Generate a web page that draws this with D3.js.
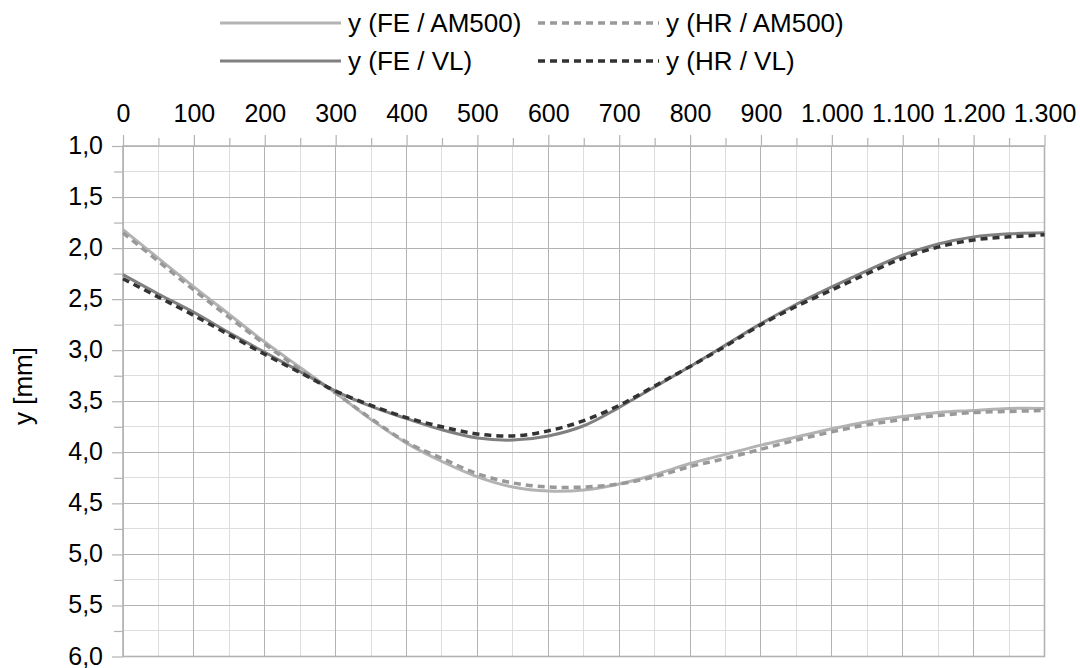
<!DOCTYPE html>
<html>
<head>
<meta charset="utf-8">
<script src="https://cdn.jsdelivr.net/npm/d3@7"></script>
<style>
  html, body { margin: 0; padding: 0; background: #ffffff; }
  svg { display: block; font-family: "Liberation Sans", Arial, sans-serif; }
</style>
</head>
<body>
<svg id="chart" width="1080" height="668"></svg>
<script>
// ---- data ----
const xValues = [0, 50, 100, 150, 200, 250, 300, 350, 400, 450, 500, 550, 600, 650, 700, 750, 800, 850, 900, 950, 1000, 1050, 1100, 1150, 1200, 1250, 1300];
const yFE_AM500 = [1.82, 2.10, 2.38, 2.65, 2.92, 3.17, 3.42, 3.68, 3.91, 4.09, 4.24, 4.34, 4.38, 4.37, 4.31, 4.22, 4.11, 4.02, 3.93, 3.85, 3.77, 3.70, 3.65, 3.61, 3.59, 3.57, 3.57];
const yHR_AM500 = [1.85, 2.13, 2.41, 2.68, 2.94, 3.19, 3.42, 3.67, 3.90, 4.06, 4.21, 4.30, 4.34, 4.34, 4.31, 4.24, 4.14, 4.06, 3.97, 3.88, 3.80, 3.73, 3.68, 3.64, 3.61, 3.60, 3.59];
const yFE_VL    = [2.26, 2.45, 2.63, 2.83, 3.02, 3.21, 3.40, 3.55, 3.67, 3.78, 3.86, 3.88, 3.84, 3.74, 3.56, 3.36, 3.16, 2.95, 2.74, 2.55, 2.38, 2.22, 2.07, 1.96, 1.89, 1.86, 1.85];
const yHR_VL    = [2.30, 2.48, 2.66, 2.85, 3.04, 3.22, 3.40, 3.54, 3.66, 3.75, 3.82, 3.84, 3.79, 3.69, 3.54, 3.35, 3.16, 2.96, 2.75, 2.57, 2.41, 2.25, 2.10, 1.99, 1.92, 1.89, 1.87];
const seriesNames = ["y (FE / AM500)", "y (HR / AM500)", "y (FE / VL)", "y (HR / VL)"];
const xMajorTicks = [0, 100, 200, 300, 400, 500, 600, 700, 800, 900, 1000, 1100, 1200, 1300];
const xMinorTicks = [50, 150, 250, 350, 450, 550, 650, 750, 850, 950, 1050, 1150, 1250];
const yMajorTicks = [1.0, 1.5, 2.0, 2.5, 3.0, 3.5, 4.0, 4.5, 5.0, 5.5, 6.0];
const yMinorTicks = [1.25, 1.75, 2.25, 2.75, 3.25, 3.75, 4.25, 4.75, 5.25, 5.75];
const yTitle = "y [mm]";

// ---- styles ----
const styles = [
  { color: "#b3b3b3", dash: null, w: 3 },
  { color: "#999999", dash: "7,5", w: 3.5 },
  { color: "#808080", dash: null, w: 3 },
  { color: "#333333", dash: "7,5", w: 3.5 }
];
const seriesValues = [yFE_AM500, yHR_AM500, yFE_VL, yHR_VL];

const svg = d3.select("#chart");
svg.append("rect").attr("width", 1080).attr("height", 668).attr("fill", "#fff");

const pL = 123, pR = 1044.5, pT = 146, pB = 656.5;
const x = d3.scaleLinear().domain([0, 1300]).range([pL, pR]);
const y = d3.scaleLinear().domain([1, 6]).range([pT, pB]);

const loc = d3.formatLocale({ decimal: ",", thousands: ".", grouping: [3], currency: ["", ""] });
const fx = loc.format(",d");
const fy = loc.format(".1f");

const FONT = 25;
const FONT_BIG = 26;

// minor grid
const g = svg.append("g");
g.selectAll(".vmin").data(xMinorTicks).join("line")
  .attr("x1", d => x(d)).attr("x2", d => x(d)).attr("y1", pT).attr("y2", pB)
  .attr("stroke", "#dddddd").attr("stroke-width", 1).attr("shape-rendering", "crispEdges");
g.selectAll(".hmin").data(yMinorTicks).join("line")
  .attr("y1", d => y(d)).attr("y2", d => y(d)).attr("x1", pL).attr("x2", pR)
  .attr("stroke", "#dddddd").attr("stroke-width", 1).attr("shape-rendering", "crispEdges");
// major grid
g.selectAll(".vmaj").data(xMajorTicks).join("line")
  .attr("x1", d => x(d)).attr("x2", d => x(d)).attr("y1", pT).attr("y2", pB)
  .attr("stroke", "#b3b3b3").attr("stroke-width", 1).attr("shape-rendering", "crispEdges");
g.selectAll(".hmaj").data(yMajorTicks).join("line")
  .attr("y1", d => y(d)).attr("y2", d => y(d)).attr("x1", pL).attr("x2", pR)
  .attr("stroke", "#b3b3b3").attr("stroke-width", 1).attr("shape-rendering", "crispEdges");

// border
svg.append("rect").attr("x", pL).attr("y", pT).attr("width", pR - pL).attr("height", pB - pT)
  .attr("fill", "none").attr("stroke", "#b3b3b3").attr("stroke-width", 1.6);

// axes
function styleAxis(sel) {
  sel.select(".domain").remove();
  sel.selectAll(".tick line").attr("stroke", "#b3b3b3").attr("stroke-width", 1.2);
  sel.selectAll(".tick text").attr("fill", "#000").style("font-size", FONT + "px")
    .style("font-family", '"Liberation Sans", Arial, sans-serif');
}
svg.append("g").attr("transform", `translate(0,${pT})`)
  .call(d3.axisTop(x).tickValues(xMinorTicks).tickSize(8).tickFormat(""))
  .call(styleAxis);
svg.append("g").attr("transform", `translate(0,${pT})`)
  .call(d3.axisTop(x).tickValues(xMajorTicks).tickSize(11).tickPadding(13).tickFormat(fx))
  .call(styleAxis);
svg.append("g").attr("transform", `translate(${pL},0)`)
  .call(d3.axisLeft(y).tickValues(yMinorTicks).tickSize(9).tickFormat(""))
  .call(styleAxis);
svg.append("g").attr("transform", `translate(${pL},0)`)
  .call(d3.axisLeft(y).tickValues(yMajorTicks).tickSize(11).tickPadding(9).tickFormat(fy))
  .call(styleAxis)
  .call(s => s.selectAll(".tick text").attr("dy", "0.3em"));

// y title
svg.append("text")
  .attr("transform", "translate(31.5,386) rotate(-90)")
  .attr("text-anchor", "middle")
  .style("font-size", FONT_BIG + "px").attr("fill", "#000")
  .text(yTitle);

// lines
const line = d3.line().x(d => x(d[0])).y(d => y(d[1])).curve(d3.curveCatmullRom.alpha(0.5));
seriesValues.forEach((vals, i) => {
  const pts = xValues.map((xv, j) => [xv, vals[j]]);
  svg.append("path").datum(pts)
    .attr("d", line)
    .attr("fill", "none")
    .attr("stroke", styles[i].color)
    .attr("stroke-width", styles[i].w)
    .attr("stroke-dasharray", styles[i].dash);
});

// legend
const legendPos = [
  { lx: 220, ly: 23 }, { lx: 538, ly: 23 },
  { lx: 220, ly: 61 }, { lx: 538, ly: 61 }
];
const lg = svg.append("g");
seriesNames.forEach((name, i) => {
  const p = legendPos[i];
  lg.append("line").attr("x1", p.lx).attr("x2", p.lx + 121).attr("y1", p.ly).attr("y2", p.ly)
    .attr("stroke", styles[i].color).attr("stroke-width", styles[i].w)
    .attr("stroke-dasharray", styles[i].dash);
  lg.append("text").attr("x", p.lx + 128).attr("y", p.ly).attr("dy", "0.35em")
    .style("font-size", FONT_BIG + "px").attr("fill", "#000").text(name);
});
</script>
</body>
</html>
